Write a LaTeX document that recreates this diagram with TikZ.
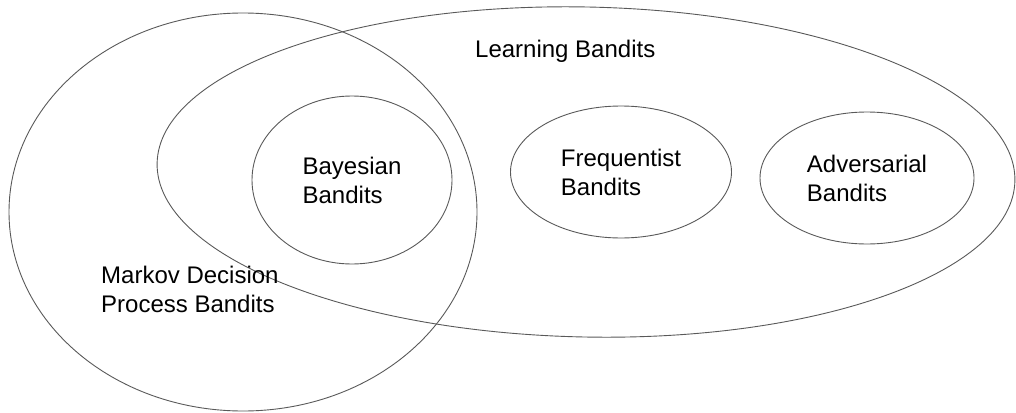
\documentclass[tikz,border=0pt]{standalone}
\usepackage{fontspec}
\setmainfont{Liberation Sans}
\usetikzlibrary{shapes.geometric}
\begin{document}
\begin{tikzpicture}[x=1pt, y=-1pt]
    \tikzstyle{set}=[ellipse, draw=black!65, line width=0.9pt, inner sep=0pt, align=left]
    \tikzstyle{settext}=[inner sep=0pt, align=left, anchor=base west]
    \useasboundingbox (0,0) rectangle (1016,412);
    \begin{scope}[font=\fontsize{24}{29}\selectfont]
    % outer sets
    \node[set, minimum width=468pt, minimum height=398pt] (mdp) at (243,212) {};
    \node[set, minimum width=858pt, minimum height=330pt, rotate=-1.2] (learn) at (586,172) {};
    % inner sets
    \node[set, minimum width=200pt, minimum height=168pt] (bayes) at (352,180) {Bayesian\\Bandits};
    \node[set, minimum width=221pt, minimum height=132pt] (freq) at (621,172) {Frequentist\\Bandits};
    \node[set, minimum width=214pt, minimum height=132pt] (adv) at (867,178) {Adversarial\\Bandits};
    % set names
    \node[settext] (learnname) at (475,57) {Learning Bandits};
    \node[settext] (mdpname) at (101,312) {Markov Decision\\Process Bandits};
    \end{scope}
\end{tikzpicture}
\end{document}
